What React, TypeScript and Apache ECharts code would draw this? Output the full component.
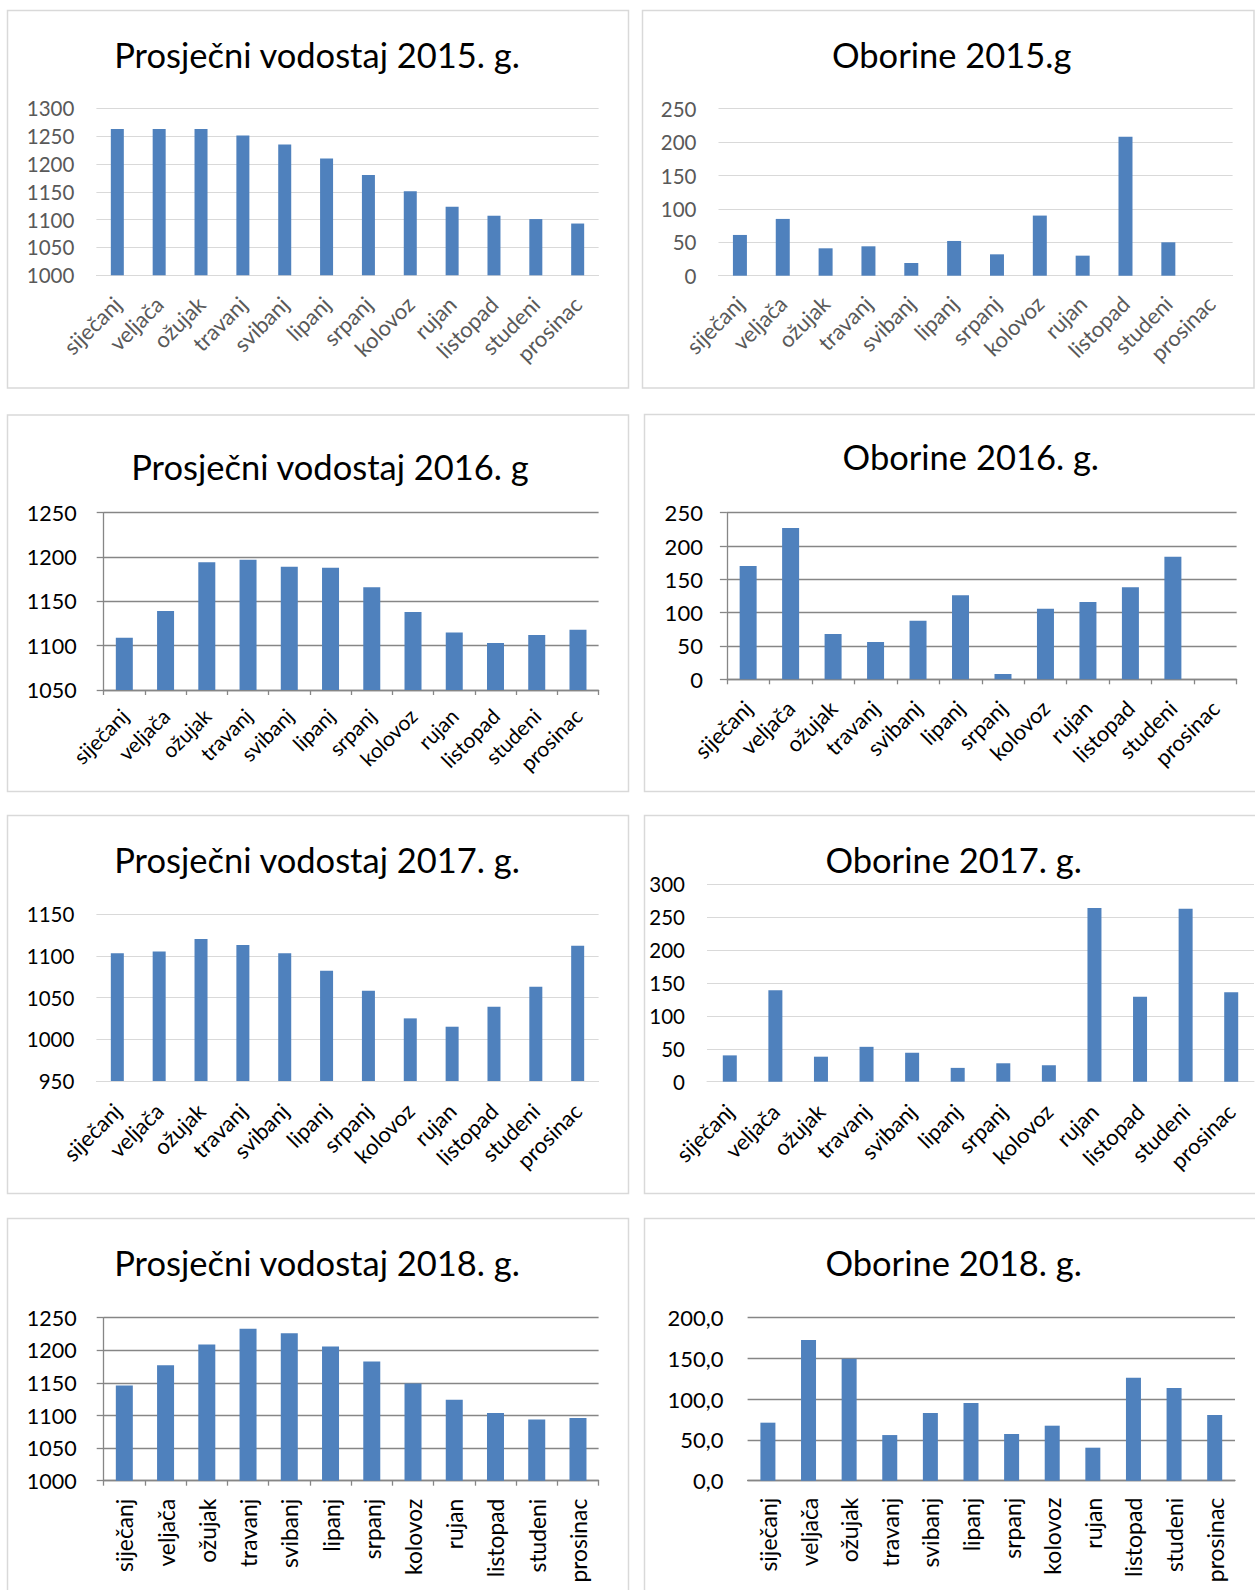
import React, { useEffect, useRef } from 'react';
import * as echarts from 'echarts';

const months = ['siječanj', 'veljača', 'ožujak', 'travanj', 'svibanj', 'lipanj', 'srpanj', 'kolovoz', 'rujan', 'listopad', 'studeni', 'prosinac'];

const vodostaj2015 = [1263, 1263, 1263, 1251, 1235, 1210, 1180, 1151, 1123, 1107, 1101, 1093];
const oborine2015 = [61, 85, 41, 44, 19, 52, 32, 90, 30, 208, 50, null];
const vodostaj2016 = [1109, 1139, 1194, 1197, 1189, 1188, 1166, 1138, 1115, 1103, 1112, 1118];
const oborine2016 = [170, 227, 68, 56, 88, 126, 8, 106, 116, 138, 184, null];
const vodostaj2017 = [1103, 1105, 1120, 1113, 1103, 1082, 1058, 1025, 1015, 1039, 1063, 1112];
const oborine2017 = [40, 139, 38, 53, 44, 21, 28, 25, 264, 129, 263, 136];
const vodostaj2018 = [1146, 1177, 1209, 1233, 1226, 1206, 1183, 1149, 1124, 1104, 1094, 1096];
const oborine2018 = [71.2, 172.6, 149.7, 56, 83, 95.3, 57.3, 67.5, 40.5, 126.4, 113.7, 80.6];

const titles = [
  'Prosječni vodostaj 2015. g.',
  'Oborine 2015.g',
  'Prosječni vodostaj 2016. g',
  'Oborine 2016. g.',
  'Prosječni vodostaj 2017. g.',
  'Oborine 2017. g.',
  'Prosječni vodostaj 2018. g.',
  'Oborine 2018. g.',
];
const seriesData = [vodostaj2015, oborine2015, vodostaj2016, oborine2016, vodostaj2017, oborine2017, vodostaj2018, oborine2018];
const yMins = [1000, 0, 1050, 0, 950, 0, 1000, 0];
const yMaxs = [1300, 250, 1250, 250, 1150, 300, 1250, 200];
const yStep = 50;

type Layout = {
  grid: number[];
  box: number[];
  title: number[];
  dark: boolean;
  yAxisLine: boolean;
  labelColor: string;
  rotate: number;
  barW: number;
  catSize: number;
  ySize: number;
  yMargin: number;
  xMargin: number;
  comma?: boolean;
};

const layouts: Layout[] = [
  { grid: [96.4, 108.3, 502.2, 167], box: [7.5, 10.5, 621, 377.5], title: [317, 54], dark: false, yAxisLine: false, labelColor: '#595959', rotate: 45, barW: 13, catSize: 22, ySize: 20.5, yMargin: 22, xMargin: 25 },
  { grid: [718.5, 108.7, 514.1, 167], box: [642.5, 10.5, 611.5, 377.5], title: [951.7, 54], dark: false, yAxisLine: false, labelColor: '#595959', rotate: 45, barW: 14, catSize: 22, ySize: 20.5, yMargin: 22, xMargin: 24 },
  { grid: [103.7, 512.7, 494.9, 177.3], box: [7.5, 415, 621, 376.5], title: [330, 466.5], dark: true, yAxisLine: true, labelColor: '#000', rotate: 45, barW: 17, catSize: 21, ySize: 21.5, yMargin: 27, xMargin: 22 },
  { grid: [726.9, 512.7, 509.7, 166.6], box: [644.5, 414.5, 612, 377], title: [970.8, 456], dark: true, yAxisLine: true, labelColor: '#000', rotate: 45, barW: 17, catSize: 22, ySize: 22, yMargin: 24, xMargin: 25 },
  { grid: [96.4, 914, 502.2, 167], box: [7.5, 815.5, 621, 378], title: [317, 859], dark: false, yAxisLine: false, labelColor: '#000', rotate: 45, barW: 13, catSize: 22, ySize: 20.5, yMargin: 22, xMargin: 26 },
  { grid: [707, 884.3, 547, 197.4], box: [644.5, 815.5, 612, 378], title: [953.6, 859], dark: false, yAxisLine: false, labelColor: '#000', rotate: 45, barW: 14, catSize: 22, ySize: 20.5, yMargin: 22, xMargin: 26 },
  { grid: [103.7, 1317.7, 494.9, 163], box: [7.5, 1218.5, 621, 380], title: [317, 1262], dark: true, yAxisLine: true, labelColor: '#000', rotate: 90, barW: 17, catSize: 22.8, ySize: 21.5, yMargin: 27, xMargin: 18 },
  { grid: [747.6, 1317.7, 487.4, 163], box: [644.5, 1218.5, 612, 380], title: [953.6, 1262], dark: true, yAxisLine: false, labelColor: '#000', rotate: 90, barW: 15, catSize: 23, ySize: 22, yMargin: 24, xMargin: 17, comma: true },
];

const FONT = 'Lato, "Noto Sans", sans-serif';
const BAR = '#4f81bd';
const LIGHT = '#d9d9d9';
const DARK = '#868686';

export default function App() {
  const ref = useRef<HTMLDivElement>(null);
  useEffect(() => {
    if (!ref.current) return;
    const chart = echarts.init(ref.current, null, { renderer: 'svg' });
    const grids: any[] = [];
    const xAxes: any[] = [];
    const yAxes: any[] = [];
    const series: any[] = [];
    const graphics: any[] = [];
    layouts.forEach((L, i) => {
      const lineColor = L.dark ? DARK : LIGHT;
      grids.push({ left: L.grid[0], top: L.grid[1], width: L.grid[2], height: L.grid[3], containLabel: false });
      xAxes.push({
        type: 'category',
        gridIndex: i,
        data: months,
        boundaryGap: true,
        axisLine: { show: true, lineStyle: { color: lineColor, width: L.dark ? 1.3 : 1 } },
        axisTick: { show: L.dark && L.yAxisLine, length: 5, lineStyle: { color: lineColor, width: 1.3 } },
        axisLabel: {
          interval: 0,
          rotate: L.rotate,
          margin: L.xMargin,
          fontSize: L.catSize,
          fontFamily: FONT,
          color: L.labelColor,
          hideOverlap: false,
        },
        splitLine: { show: false },
      });
      yAxes.push({
        type: 'value',
        gridIndex: i,
        min: yMins[i],
        max: yMaxs[i],
        interval: yStep,
        axisLine: { show: L.yAxisLine, lineStyle: { color: DARK, width: 1.3 } },
        axisTick: { show: L.yAxisLine, length: 7, lineStyle: { color: DARK, width: 1.3 } },
        axisLabel: {
          margin: L.yMargin,
          fontSize: L.ySize,
          fontFamily: FONT,
          color: L.labelColor,
          formatter: L.comma ? (v: number) => v.toFixed(1).replace('.', ',') : (v: number) => String(v),
        },
        splitLine: { show: true, lineStyle: { color: lineColor, width: L.dark ? 1.3 : 1 } },
      });
      series.push({
        type: 'bar',
        xAxisIndex: i,
        yAxisIndex: i,
        data: seriesData[i],
        barWidth: L.barW,
        itemStyle: { color: BAR },
        silent: true,
      });
      graphics.push({
        type: 'rect',
        silent: true,
        shape: { x: L.box[0], y: L.box[1], width: L.box[2], height: L.box[3] },
        style: { fill: 'none', stroke: LIGHT, lineWidth: 1.5 },
      });
      graphics.push({
        type: 'text',
        silent: true,
        x: L.title[0],
        y: L.title[1],
        style: {
          text: titles[i],
          fontSize: 34.5,
          fontFamily: FONT,
          fill: '#000',
          textAlign: 'center',
          textVerticalAlign: 'middle',
          verticalAlign: 'middle',
        },
      });
    });
    chart.setOption({
      animation: false,
      backgroundColor: '#fff',
      grid: grids,
      xAxis: xAxes,
      yAxis: yAxes,
      series,
      graphic: { elements: graphics },
    });
    return () => chart.dispose();
  }, []);
  return (
    <div
      ref={ref}
      style={{ position: 'absolute', left: 0, top: 0, width: 1255, height: 1590, background: '#fff' }}
    />
  );
}
